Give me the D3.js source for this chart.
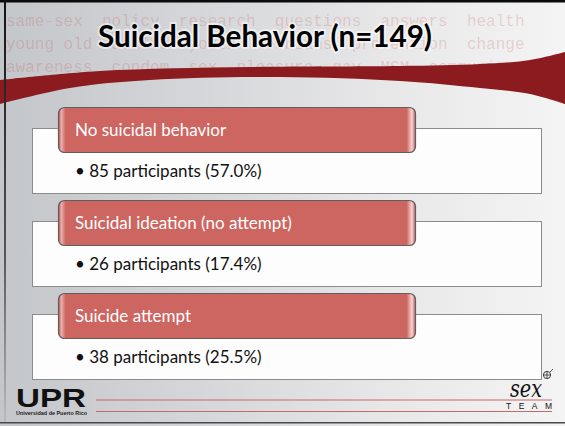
<!DOCTYPE html>
<html>
<head>
<meta charset="utf-8">
<script src="https://cdn.jsdelivr.net/npm/d3@7"></script>
<style>
body { margin: 0; background: #fff; overflow: hidden; }
text { white-space: pre; }
</style>
</head>
<body>
<script>
// slide values
const total = 149
const categories = ["No suicidal behavior", "Suicidal ideation (no attempt)", "Suicide attempt"]
const participants = [85, 26, 38]
const percents = [57.0, 17.4, 25.5]

// faint keyword watermark behind the title
const watermark = [
	"same-sex  policy  research  questions  answers  health",
	"young old  adults  youth  lesbians  prevention  change",
	"awareness  condom  sex  pleasure  gay  MSM  community"
]

const W = 565, H = 426

const svg = d3.select("body").append("svg").attr("width", W).attr("height", H)
const defs = svg.append("defs")

const bg = defs.append("linearGradient").attr("id", "bg").attr("x1", 0).attr("x2", 1).attr("y1", 0).attr("y2", 0)
bg.append("stop").attr("offset", 0).attr("stop-color", "#c3c6ca")
bg.append("stop").attr("offset", 0.35).attr("stop-color", "#d5d6d9")
bg.append("stop").attr("offset", 0.7).attr("stop-color", "#e8e8e9")
bg.append("stop").attr("offset", 1).attr("stop-color", "#f4f4f4")

const hdr = defs.append("linearGradient").attr("id", "hdr").attr("x1", 0).attr("x2", 1).attr("y1", 0).attr("y2", 0)
hdr.append("stop").attr("offset", 0).attr("stop-color", "#b9524e")
hdr.append("stop").attr("offset", 0.008).attr("stop-color", "#eab0ad")
hdr.append("stop").attr("offset", 0.02).attr("stop-color", "#cd6661")
hdr.append("stop").attr("offset", 0.975).attr("stop-color", "#cd6661")
hdr.append("stop").attr("offset", 0.99).attr("stop-color", "#f6d6d4")
hdr.append("stop").attr("offset", 1).attr("stop-color", "#c05a55")

const edge = defs.append("linearGradient").attr("id", "edge").attr("x1", 0).attr("x2", 0).attr("y1", 0).attr("y2", 1)
edge.append("stop").attr("offset", 0).attr("stop-color", "#111")
edge.append("stop").attr("offset", 0.6).attr("stop-color", "#555")
edge.append("stop").attr("offset", 1).attr("stop-color", "#bbb")

svg.append("rect").attr("width", W).attr("height", H).attr("fill", "url(#bg)")

// watermark words
svg.append("g").selectAll("text").data(watermark).join("text")
	.attr("x", 6)
	.attr("y", (d, i) => 26 + i * 23)
	.attr("xml:space", "preserve")
	.style("font-family", "'Liberation Mono', monospace")
	.style("font-size", "16px")
	.attr("fill", "#c04040")
	.attr("fill-opacity", 0.2)
	.text(d => d)

// red swoosh
const swooshTop = [[0, 80], [100, 71], [250, 67], [400, 66], [480, 64], [530, 60], [565, 52]]
const swooshBottom = [[565, 104], [530, 94], [480, 88], [400, 81], [280, 77], [150, 80], [70, 88], [0, 104]]
const curve = d3.line().curve(d3.curveCatmullRom)
svg.append("path")
	.attr("d", curve(swooshTop) + curve(swooshBottom).replace("M", "L") + "Z")
	.attr("fill", "#8c1b20")

// title
const title = `Suicidal Behavior (n=${total})`
svg.append("text").attr("x", 98).attr("y", 47)
	.attr("textLength", 334).attr("lengthAdjust", "spacingAndGlyphs")
	.style("font-family", "Lato, sans-serif").style("font-weight", 700).style("font-size", "31px")
	.attr("fill", "none").attr("stroke", "#fff").attr("stroke-width", 4).attr("stroke-opacity", 0.55)
	.attr("stroke-linejoin", "round")
	.text(title)
svg.append("text").attr("x", 98).attr("y", 47)
	.attr("textLength", 334).attr("lengthAdjust", "spacingAndGlyphs")
	.style("font-family", "Lato, sans-serif").style("font-weight", 700).style("font-size", "31px")
	.attr("fill", "#000")
	.text(title)

// one band per category
const y = d3.scaleBand().domain(categories).range([107, 386])

const rows = svg.append("g").selectAll("g").data(categories).join("g")
	.attr("transform", d => `translate(0,${y(d)})`)

rows.append("rect")
	.attr("x", 32.5).attr("y", 21.5).attr("width", 509).attr("height", 65)
	.attr("fill", "#fdfdfd").attr("stroke", "#8c8c8c").attr("stroke-width", 1)

rows.append("rect")
	.attr("x", 58.5).attr("y", 0.5).attr("width", 357).attr("height", 45).attr("rx", 6)
	.attr("fill", "url(#hdr)").attr("stroke", "#5f5f5f").attr("stroke-width", 1.2)

rows.append("text")
	.attr("x", 75).attr("y", 29)
	.style("font-family", "Lato, sans-serif").style("font-size", "17px")
	.attr("fill", "#fff")
	.text(d => d)

rows.append("text")
	.attr("x", 75).attr("y", 69.5)
	.style("font-family", "Lato, sans-serif").style("font-size", "17px")
	.attr("fill", "#111")
	.text((d, i) => `\u2022 ${participants[i]} participants (${percents[i].toFixed(1)}%)`)

// footer
svg.append("text").attr("x", 16).attr("y", 407)
	.attr("textLength", 70).attr("lengthAdjust", "spacingAndGlyphs")
	.style("font-family", "'Liberation Sans', Arial, sans-serif").style("font-weight", 700).style("font-size", "26px")
	.attr("fill", "#111").text("UPR")
svg.append("text").attr("x", 16).attr("y", 415)
	.attr("textLength", 71).attr("lengthAdjust", "spacingAndGlyphs")
	.style("font-family", "'Liberation Sans', Arial, sans-serif").style("font-weight", 700).style("font-size", "5.5px")
	.attr("fill", "#222").text("Universidad de Puerto Rico")

svg.append("g").selectAll("line").data([400, 411.5]).join("line")
	.attr("x1", 96).attr("x2", 552).attr("y1", d => d).attr("y2", d => d)
	.attr("stroke", "#c46a6a").attr("stroke-width", 1.2)

svg.append("text").attr("x", 510).attr("y", 397)
	.attr("textLength", 32).attr("lengthAdjust", "spacingAndGlyphs")
	.style("font-family", "'DejaVu Serif', serif").style("font-style", "italic").style("font-size", "24px")
	.attr("fill", "#111").text("sex")
svg.append("circle").attr("cx", 547).attr("cy", 375).attr("r", 3.6)
	.attr("fill", "none").attr("stroke", "#111").attr("stroke-width", 0.8)
svg.append("path").attr("d", "M543.5,375H550.5M547,371.5V378.5M550,372L553,369")
	.attr("fill", "none").attr("stroke", "#111").attr("stroke-width", 0.7)
svg.append("text").attr("x", 506).attr("y", 409)
	.attr("textLength", 46)
	.style("font-family", "'Liberation Sans', Arial, sans-serif").style("font-size", "8.5px")
	.attr("fill", "#111").text("TEAM")

// slide frame
svg.append("rect").attr("x", 0).attr("y", 0).attr("width", W).attr("height", 2.5).attr("fill", "#0b0b0b")
svg.append("rect").attr("x", 4).attr("y", 0).attr("width", 2).attr("height", 422).attr("fill", "url(#edge)")
svg.append("rect").attr("x", 0).attr("y", 422).attr("width", W).attr("height", 1.5).attr("fill", "#4a4a4a")
</script>
</body>
</html>
